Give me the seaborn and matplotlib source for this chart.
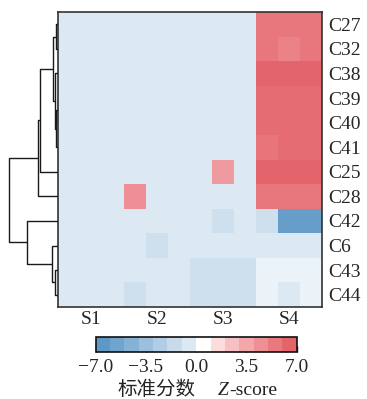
import numpy as np
import pandas as pd
import matplotlib
matplotlib.use("Agg")
import matplotlib.pyplot as plt
import seaborn as sns
from matplotlib.colors import ListedColormap, LinearSegmentedColormap, Normalize
import matplotlib.cm as cm

# ---------------- data ----------------
genes = ["C27", "C32", "C38", "C39", "C40", "C41", "C25", "C28", "C42", "C6", "C43", "C44"]
samples = ["S1", "S2", "S3", "S4"]
n_rep = 3

# z-scores, 3 replicates per sample:   S1 | S2 | S3 | S4
C27 = [-0.5, -0.5, -0.5, -0.5, -0.5, -0.5, -0.5, -0.5, -0.5, 5.6, 5.6, 5.6]
C32 = [-0.5, -0.5, -0.5, -0.5, -0.5, -0.5, -0.5, -0.5, -0.5, 5.6, 5.1, 5.6]
C38 = [-0.5, -0.5, -0.5, -0.5, -0.5, -0.5, -0.5, -0.5, -0.5, 6.5, 6.5, 6.5]
C39 = [-0.5, -0.5, -0.5, -0.5, -0.5, -0.5, -0.5, -0.5, -0.5, 6.1, 6.1, 6.1]
C40 = [-0.5, -0.5, -0.5, -0.5, -0.5, -0.5, -0.5, -0.5, -0.5, 6.1, 6.1, 6.1]
C41 = [-0.5, -0.5, -0.5, -0.5, -0.5, -0.5, -0.5, -0.5, -0.5, 5.7, 6.1, 6.1]
C25 = [-0.5, -0.5, -0.5, -0.5, -0.5, -0.5, -0.5, 4.1, -0.5, 6.5, 6.5, 6.5]
C28 = [-0.5, -0.5, -0.5, 4.5, -0.5, -0.5, -0.5, -0.5, -0.5, 5.6, 5.6, 5.6]
C42 = [-0.5, -0.5, -0.5, -0.5, -0.5, -0.5, -0.5, -1.2, -0.5, -1.2, -6.0, -6.0]
C6 = [-0.5, -0.5, -0.5, -0.5, -1.2, -0.5, -0.5, -0.5, -0.5, -0.5, -0.5, -0.5]
C43 = [-0.5, -0.5, -0.5, -0.5, -0.5, -0.5, -1.2, -1.2, -1.2, -0.1, -0.1, -0.1]
C44 = [-0.5, -0.5, -0.5, -1.2, -0.5, -0.5, -1.2, -1.2, -1.2, -0.1, -0.5, -0.1]

cbar_ticks = [-7.0, -3.5, 0.0, 3.5, 7.0]
cbar_ticklabels = ["\u22127.0", "\u22123.5", "0.0", "3.5", "7.0"]
cbar_label_cn = "标准分数"
cbar_label_z = "Z"
cbar_label_rest = "-score"
vmin, vmax = -7, 7

palette = ["#5e98c6", "#71a4cd", "#86b1d6", "#9bbfdd", "#b0cde5", "#c7dbec", "#dce9f3",
           "#ffffff", "#fcdcdd", "#f7c1c3", "#f2a8ab", "#ed9095", "#e87a7f", "#e3646a"]

# ---------------- build frame ----------------
columns = [f"{s}_{r+1}" for s in samples for r in range(n_rep)]
rows = [C27, C32, C38, C39, C40, C41, C25, C28, C42, C6, C43, C44]
df = pd.DataFrame(rows, index=genes, columns=columns)

# ---------------- style ----------------
sns.set_theme(style="white")
plt.rcParams["font.family"] = ["Liberation Serif", "Noto Sans CJK SC"]
plt.rcParams["axes.unicode_minus"] = True

# colormaps: continuous for cells, discrete for the legend bar
nb = len(palette)
centers = [(i + 0.5) / nb for i in range(nb)]
stops = [(0.0, palette[0])] + list(zip(centers, palette)) + [(1.0, palette[-1])]
cell_cmap = LinearSegmentedColormap.from_list("zcont", stops)
bar_cmap = ListedColormap(palette)

W, H = 367, 399
fig = plt.figure(figsize=(W / 100, H / 100), dpi=100)

def px(x0, y0, x1, y1):
    return [x0 / W, 1 - y1 / H, (x1 - x0) / W, (y1 - y0) / H]

ax = fig.add_axes(px(57.7, 12, 321.7, 307))
ax_d = fig.add_axes(px(6.9, 12, 57.7, 307))
cax = fig.add_axes(px(95.7, 336.7, 296.7, 351.7))

sns.heatmap(df, ax=ax, cmap=cell_cmap, vmin=vmin, vmax=vmax, cbar=False,
            xticklabels=False, yticklabels=True)
ax.set_xticks([g * n_rep + n_rep / 2 for g in range(len(samples))])
ax.set_xticklabels(samples, fontsize=14, rotation=0)
ax.yaxis.tick_right()
ax.set_yticklabels(genes, fontsize=14, rotation=0)
ax.tick_params(axis="both", length=0)
ax.tick_params(axis="y", pad=5)
ax.tick_params(axis="x", pad=3)
ax.set_xlabel("")
ax.set_ylabel("")
for s in ax.spines.values():
    s.set_visible(True)
    s.set_color("#333333")
    s.set_linewidth(1.2)

# ---------------- row dendrogram (average linkage, euclidean) ----------------
X = df.values
D = np.sqrt(((X[:, None, :] - X[None, :, :]) ** 2).sum(-1))
clusters = {i: [i] for i in range(len(X))}
pos = {i: i + 0.5 for i in range(len(X))}
height = {i: 0.0 for i in range(len(X))}
merges = []
nid = len(X)
while len(clusters) > 1:
    keys = list(clusters)
    best = None
    for i in range(len(keys)):
        for j in range(i + 1, len(keys)):
            a, b = keys[i], keys[j]
            d = D[np.ix_(clusters[a], clusters[b])].mean()
            if best is None or d < best[0]:
                best = (d, a, b)
    d, a, b = best
    merges.append((a, b, d))
    clusters[nid] = clusters.pop(a) + clusters.pop(b)
    pos[nid] = (pos[a] + pos[b]) / 2
    height[nid] = d
    nid += 1

for a, b, d in merges:
    ax_d.plot([height[a], d, d, height[b]], [pos[a], pos[a], pos[b], pos[b]],
              color="#1a1a1a", lw=1.0, solid_capstyle="butt")
root_h = merges[-1][2]
ax_d.set_xlim(root_h * 1.05, 0)
ax_d.set_ylim(len(X), 0)
ax_d.axis("off")

# ---------------- colour bar ----------------
sm = cm.ScalarMappable(norm=Normalize(vmin, vmax), cmap=bar_cmap)
cb = fig.colorbar(sm, cax=cax, orientation="horizontal", ticks=cbar_ticks)
cb.ax.set_xticklabels(cbar_ticklabels, fontsize=14)
cb.ax.tick_params(direction="in", length=4, width=1, color="#111111", pad=5)
cb.outline.set_edgecolor("#111111")
cb.outline.set_linewidth(1.2)

# label: Chinese part + italic Z + "-score"
base_y = 1 - 395 / H
t1 = fig.text(195 / W, base_y, cbar_label_cn, ha="right", va="baseline",
              fontsize=14, family=["Noto Sans CJK SC", "Liberation Serif"], color="#222222")
t2 = fig.text(218 / W, base_y, cbar_label_z, ha="left", va="baseline",
              fontsize=14, style="italic", family=["Liberation Serif"], color="#222222")
fig.canvas.draw()
t3 = plt.annotate(cbar_label_rest, xy=(1, 0), xycoords=t2, va="bottom", ha="left",
                  fontsize=14, family=["Liberation Serif"], color="#222222",
                  annotation_clip=False)

fig.savefig("out.png", dpi=100)
